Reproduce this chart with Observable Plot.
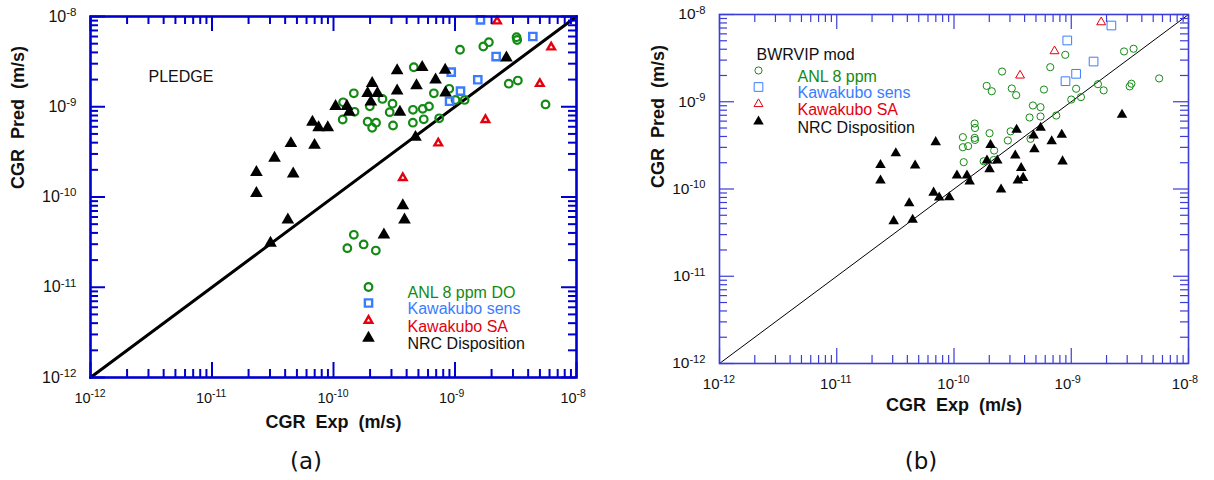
<!DOCTYPE html>
<html><head><meta charset="utf-8">
<script src="https://cdn.jsdelivr.net/npm/d3@7"></script>
<script src="https://cdn.jsdelivr.net/npm/@observablehq/plot@0.6"></script>
<style>
body{margin:0;background:#fff;}
#wrap{position:relative;width:1214px;height:480px;font-family:"Liberation Sans",Arial,sans-serif;}
.panel{position:absolute;top:0;}
.cap{position:absolute;top:448px;font-family:"DejaVu Sans",sans-serif;font-size:23px;color:#111;transform:translateX(-50%);white-space:nowrap;}
</style></head><body>
<div id="wrap">
  <div id="pa" class="panel" style="left:0"></div>
  <div id="pb" class="panel" style="left:607px"></div>
  <div class="cap" style="left:306px">(a)</div>
  <div class="cap" style="left:921px">(b)</div>
</div>
<script>
// ---------- data: panel (a) PLEDGE ----------
const a_anlX = [1.10e-9,1.71e-9,1.90e-9,3.21e-9,3.25e-9,4.58e-10,1.47e-10,1.20e-10,2.53e-10,1.99e-10,1.49e-10,3.06e-10,2.90e-10,1.19e-10,1.91e-10,2.24e-10,2.08e-10,3.09e-10,4.51e-10,5.42e-10,6.11e-10,4.50e-10,5.53e-10,6.70e-10,8.97e-10,1.01e-9,1.20e-9,7.41e-10,2.77e-9,3.29e-9,5.56e-9,1.47e-10,1.30e-10,1.77e-10,2.23e-10];
const a_anlY = [4.28e-9,4.65e-9,5.19e-9,5.9e-9,5.49e-9,2.74e-9,1.41e-9,1.12e-9,1.22e-9,1.01e-9,8.79e-10,1.08e-9,8.71e-10,7.22e-10,6.83e-10,6.66e-10,5.85e-10,6.2e-10,9.25e-10,9.48e-10,1.01e-9,6.66e-10,7.26e-10,1.41e-9,1.58e-9,1.19e-9,1.19e-9,7.45e-10,1.80e-9,1.95e-9,1.06e-9,3.81e-11,2.71e-11,2.98e-11,2.55e-11];
const a_sensX = [1.62e-9,4.37e-9,2.18e-9,9.31e-10,1.54e-9,1.11e-9,9.02e-10];
const a_sensY = [9.19e-9,6.0e-9,3.6e-9,2.42e-9,1.99e-9,1.49e-9,1.15e-9];
const a_saX = [2.22e-9,6.19e-9,4.99e-9,1.78e-9,7.28e-10,3.72e-10];
const a_saY = [8.87e-9,4.57e-9,1.80e-9,7.17e-10,3.95e-10,1.63e-10];
const a_nrcX = [3.34e-10,5.37e-10,8.3e-10,2.08e-10,4.82e-10,6.92e-10,3.34e-10,1.91e-10,2.30e-10,8.36e-10,2.03e-10,2.65e-9,1.04e-10,1.29e-10,1.35e-10,3.52e-10,6.71e-11,7.54e-11,8.97e-11,4.46e-11,6.98e-11,3.27e-11,4.66e-11,2.32e-11,4.73e-10,2.32e-11,4.21e-11,3.03e-11,3.72e-10,3.84e-10,2.6e-10];
const a_nrcY = [2.52e-9,2.74e-9,2.55e-9,1.82e-9,1.72e-9,1.99e-9,1.50e-9,1.41e-9,1.41e-9,1.43e-9,1.13e-9,3.49e-9,1.01e-9,1.01e-9,8.71e-10,8.71e-10,6.75e-10,5.89e-10,5.89e-10,3.92e-10,3.75e-10,2.70e-10,1.81e-10,1.88e-10,4.6e-10,1.10e-10,5.58e-11,3.08e-11,8.05e-11,5.58e-11,3.81e-11];

// ---------- data: panel (b) BWRVIP mod ----------
const b_anlX = [8.89e-10,6.62e-10,2.57e-10,1.90e-10,2.10e-10,3.11e-10,3.39e-10,5.85e-10,1.10e-9,1.0e-9,1.21e-9,1.69e-9,1.89e-9,2.82e-9,3.40e-9,3.26e-9,3.15e-9,5.62e-9,4.71e-10,5.47e-10,5.47e-10,4.41e-10,7.45e-10,1.50e-10,1.51e-10,1.19e-10,1.50e-10,1.51e-10,2.01e-10,3.04e-10,2.88e-10,4.49e-10,1.19e-10,1.32e-10,2.20e-10,2.18e-10,1.79e-10,1.21e-10];
const b_anlY = [3.45e-9,2.49e-9,2.22e-9,1.52e-9,1.32e-9,1.42e-9,1.19e-9,1.38e-9,1.41e-9,1.06e-9,1.13e-9,1.59e-9,1.35e-9,3.77e-9,4.05e-9,1.61e-9,1.50e-9,1.85e-9,9.06e-10,8.67e-10,6.78e-10,6.6e-10,6.95e-10,5.63e-10,5.0e-10,3.93e-10,3.85e-10,3.65e-10,4.36e-10,4.58e-10,3.6e-10,3.76e-10,3.01e-10,3.1e-10,2.76e-10,2.15e-10,2.08e-10,2.03e-10];
const b_sensX = [2.2e-9,9.25e-10,1.55e-9,1.10e-9,8.93e-10];
const b_sensY = [7.48e-9,5.04e-9,2.89e-9,2.09e-9,1.72e-9];
const b_saX = [1.80e-9,7.2e-10,3.66e-10];
const b_saY = [8.16e-9,3.8e-9,2.0e-9];
const b_nrcX = [2.71e-9,3.42e-10,5.48e-10,4.77e-10,8.3e-10,6.81e-10,4.85e-10,2.05e-10,6.98e-11,3.19e-11,4.66e-11,2.36e-11,2.36e-11,3.33e-10,1.91e-10,2.34e-10,2.01e-10,8.43e-10,3.74e-10,1.06e-10,1.29e-10,1.36e-10,3.5e-10,3.89e-10,2.52e-10,6.7e-11,7.48e-11,9.12e-11,4.15e-11,3.06e-11,4.44e-11];
const b_nrcY = [7.08e-10,4.78e-10,5.03e-10,4.1e-10,4.18e-10,3.53e-10,2.85e-10,3.19e-10,3.44e-10,2.57e-10,1.86e-10,1.88e-10,1.25e-10,2.42e-10,2.12e-10,2.12e-10,1.69e-10,2.07e-10,1.74e-10,1.43e-10,1.43e-10,1.22e-10,1.25e-10,1.34e-10,9.86e-11,9.08e-11,8.0e-11,8.05e-11,6.87e-11,4.28e-11,4.44e-11];

// ---------- axes / labels ----------
const majorTicks = [1e-12, 1e-11, 1e-10, 1e-9, 1e-8];
const minorMult = [2,3,4,5,6,7,8,9];
const minorTicks = majorTicks.slice(0,4).flatMap(d => minorMult.map(k => k*d));
const diagonal = [1e-12, 1e-8];
const xTitle = "CGR\u00a0\u00a0Exp\u00a0\u00a0(m/s)";
const yTitle = "CGR\u00a0\u00a0Pred\u00a0\u00a0(m/s)";
const a_names = ["ANL 8 ppm DO", "Kawakubo sens", "Kawakubo SA", "NRC Disposition"];
const b_names = ["ANL 8 ppm", "Kawakubo sens", "Kawakubo SA", "NRC Disposition"];
const GREEN = "#138a13", BLUE = "#3b7cff", RED = "#e3000f", BLACK = "#000";

const zip = (xs, ys) => xs.map((x,i) => ({x, y: ys[i]}));

function panel(cfg) {
  const W = 607, H = 440;
  const iw = W - cfg.ml - cfg.mr, ih = H - cfg.mt - cfg.mb;
  const st = cfg.sty;
  const series = [
    {data: zip(cfg.anlX, cfg.anlY), symbol: "circle", stroke: GREEN, fill: "none", r: st.cr, sw: st.csw},
    {data: zip(cfg.sensX, cfg.sensY), symbol: "square", stroke: BLUE, fill: "none", r: st.sr, sw: st.ssw},
    {data: zip(cfg.saX, cfg.saY), symbol: "triangle", stroke: RED, fill: "none", r: st.tr, sw: st.tsw},
    {data: zip(cfg.nrcX, cfg.nrcY), symbol: "triangle", stroke: "none", fill: BLACK, r: st.nr, sw: 0}
  ];
  const colors = [GREEN, BLUE, RED, "#111"];
  const marks = [];
  marks.push(Plot.line(diagonal, {x: d => d, y: d => d, stroke: "#000", strokeWidth: cfg.diagW}));
  for (const s of series) {
    marks.push(Plot.dot(s.data, {x: "x", y: "y", symbol: s.symbol, r: s.r, stroke: s.stroke, fill: s.fill, strokeWidth: s.sw}));
  }
  // inward ticks on four sides
  for (const [vals, len] of [[majorTicks, cfg.major], [minorTicks, cfg.minor]]) {
    const o = {stroke: cfg.axisColor, strokeWidth: cfg.tickW};
    marks.push(Plot.tickX(vals, {x: d => d, insetTop: ih - len, ...o}));
    marks.push(Plot.tickX(vals, {x: d => d, insetBottom: ih - len, ...o}));
    marks.push(Plot.tickY(vals, {y: d => d, insetRight: iw - len, ...o}));
    marks.push(Plot.tickY(vals, {y: d => d, insetLeft: iw - len, ...o}));
  }
  marks.push(Plot.frame({stroke: cfg.axisColor, strokeWidth: cfg.frameW}));
  // tick labels
  const lab = d => "10|" + Math.round(Math.log10(d));
  marks.push(Plot.text(majorTicks, {x: d => d, frameAnchor: "bottom", dy: cfg.xLabDy, dx: -cfg.xLabFont * 1.112,
    textAnchor: "start", text: lab, fontSize: cfg.xLabFont, fill: "#111"}));
  marks.push(Plot.text(majorTicks, {y: d => d, frameAnchor: "left", dx: -cfg.yLabPad,
    textAnchor: "end", text: lab, fontSize: cfg.yLabFont, fill: "#111"}));
  // axis titles
  marks.push(Plot.text([xTitle], {frameAnchor: "bottom", dy: cfg.xTitleDy, text: d => d, fontSize: 18, fontWeight: "bold", fill: "#111"}));
  marks.push(Plot.text([yTitle], {frameAnchor: "left", dx: cfg.yTitleDx, dy: cfg.yTitleDy, rotate: -90, text: d => d, fontSize: 18, fontWeight: "bold", fill: "#111"}));
  // panel title
  marks.push(Plot.text([cfg.title], {frameAnchor: "top-left", dx: cfg.titleX, dy: cfg.titleY, textAnchor: "start", text: d => d, fontSize: 16, fill: "#111"}));
  // legend
  cfg.names.forEach((name, i) => {
    const s = series[i];
    marks.push(Plot.dot([name], {frameAnchor: "top-left", dx: cfg.legX, dy: cfg.legY[i], symbol: s.symbol, r: s.r, stroke: s.stroke, fill: s.fill, strokeWidth: s.sw}));
    marks.push(Plot.text([name], {frameAnchor: "top-left", dx: cfg.legTX, dy: cfg.legY[i], textAnchor: "start", text: d => d, fontSize: 16, fill: colors[i]}));
  });
  const svg = Plot.plot({
    width: W, height: H,
    marginLeft: cfg.ml, marginRight: cfg.mr, marginTop: cfg.mt, marginBottom: cfg.mb,
    style: {fontFamily: '"Liberation Sans", Arial, sans-serif', background: "transparent", overflow: "visible"},
    x: {type: "log", domain: [1e-12, 1e-8], axis: null},
    y: {type: "log", domain: [1e-12, 1e-8], axis: null},
    marks
  });
  // superscripts for 10^n labels
  d3.select(svg).selectAll("text").each(function() {
    const t = this.textContent;
    if (!t.includes("|")) return;
    const [b, e] = t.split("|");
    const sel = d3.select(this);
    sel.text(null);
    sel.append("tspan").text(b);
    sel.append("tspan").attr("dy", "-0.5em").attr("font-size", "72%").text(e);
  });
  return svg;
}

document.getElementById("pa").append(panel({
  ml: 90, mr: 31, mt: 16, mb: 63,
  anlX: a_anlX, anlY: a_anlY, sensX: a_sensX, sensY: a_sensY, saX: a_saX, saY: a_saY, nrcX: a_nrcX, nrcY: a_nrcY,
  sty: {cr: 3.8, csw: 2.2, sr: 4.1, ssw: 2.4, tr: 2.8, tsw: 2.4, nr: 4.7},
  axisColor: "#0000cc", frameW: 2.6, tickW: 2, major: 15, minor: 8, diagW: 3,
  xLabDy: 25, xLabFont: 14.5, yLabPad: 14, yLabFont: 16,
  xTitleDy: 50, yTitleDx: -72, yTitleDy: -8,
  title: "PLEDGE", titleX: 58, titleY: 54,
  names: a_names, legX: 278, legTX: 317, legY: [270.5, 286.5, 304, 321.5]
}));
document.getElementById("pb").append(panel({
  ml: 112, mr: 26, mt: 14, mb: 77,
  anlX: b_anlX, anlY: b_anlY, sensX: b_sensX, sensY: b_sensY, saX: b_saX, saY: b_saY, nrcX: b_nrcX, nrcY: b_nrcY,
  sty: {cr: 3.6, csw: 1, sr: 4.9, ssw: 1, tr: 3.3, tsw: 1, nr: 3.9},
  axisColor: "#3c3cd6", frameW: 1.6, tickW: 1.2, major: 15, minor: 8, diagW: 1,
  xLabDy: 25, xLabFont: 15, yLabPad: 14, yLabFont: 15.5,
  xTitleDy: 47, yTitleDx: -61, yTitleDy: -1,
  title: "BWRVIP mod", titleX: 37, titleY: 34,
  names: b_names, legX: 39, legTX: 78, legY: [56, 72.5, 89.5, 107]
}));
</script>
</body></html>
